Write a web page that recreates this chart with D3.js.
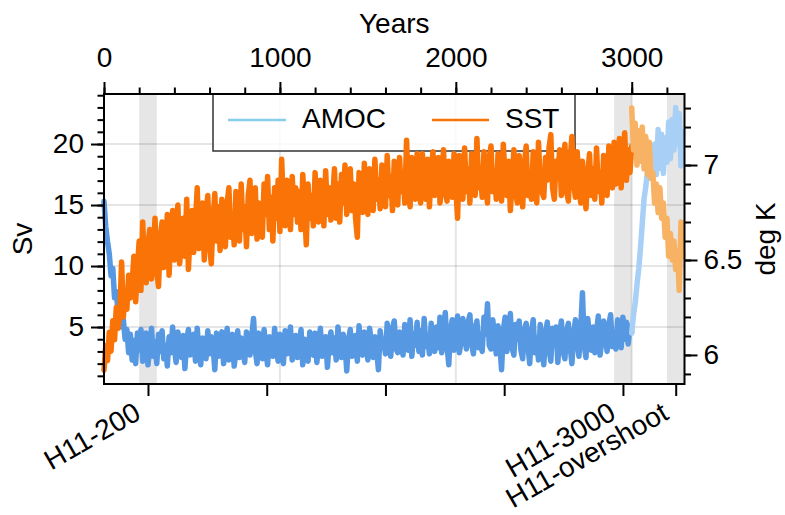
<!DOCTYPE html>
<html>
<head>
<meta charset="utf-8">
<title>AMOC and SST</title>
<style>
    body { margin:0; background:#fff; }
    svg text { font-family:"Liberation Sans", Arial, sans-serif; }
</style>
</head>
<body>
<div id="chart"></div>
<script src="https://cdn.jsdelivr.net/npm/d3@7/dist/d3.min.js"></script>
<script>

// AMOC (Sv), one value every 10 years, year 0 .. 3000 (one row = 100 years)
var amoc = [
    15.3, 13.2, 12.0, 11.0, 9.2, 9.8, 7.4, 7.9, 6.2, 6.6,
    5.0, 5.6, 4.0, 4.8, 2.9, 4.4, 2.3, 3.9, 2.0, 4.5,
    3.1, 4.8, 2.2, 3.6, 4.5, 1.9, 3.3, 4.9, 2.6, 3.8,
    2.0, 4.4, 3.0, 4.7, 2.4, 3.5, 1.8, 4.2, 2.9, 5.0,
    3.3, 2.1, 4.6, 3.7, 2.5, 4.3, 1.6, 3.9, 4.8, 2.7,
    3.5, 4.4, 2.2, 4.9, 3.1, 1.9, 4.1, 3.6, 2.4, 4.7,
    2.8, 4.2, 3.4, 1.5, 4.5, 2.6, 3.8, 4.6, 2.0, 3.2,
    4.9, 2.3, 3.7, 4.4, 1.8, 3.0, 4.7, 2.5, 4.1, 3.3,
    2.1, 4.6, 3.5, 2.7, 4.3, 5.7, 3.1, 2.0, 4.5, 3.6,
    2.4, 4.8, 3.0, 1.9, 4.2, 3.7, 2.6, 4.9, 3.2, 2.2,
    4.4, 3.4, 2.0, 4.7, 2.8, 3.9, 5.0, 2.3, 3.6, 4.3,
    2.5, 3.1, 4.8, 1.9, 4.0, 3.5, 2.2, 4.6, 3.3, 2.7,
    4.5, 2.1, 3.8, 4.9, 2.6, 3.4, 4.2, 1.7, 3.7, 4.6,
    2.9, 4.1, 2.3, 5.0, 3.2, 2.5, 4.4, 3.6, 1.4, 3.9,
    4.8, 2.6, 3.5, 4.3, 2.2, 5.1, 3.0, 2.7, 4.6, 3.4,
    2.3, 4.9, 3.7, 2.5, 4.2, 3.1, 1.5, 4.7, 3.3, 4.0,
    2.8, 5.3, 3.6, 2.6, 4.9, 5.5, 3.2, 2.9, 4.6, 3.8,
    2.7, 5.2, 4.0, 3.1, 5.6, 2.6, 4.4, 3.5, 5.4, 3.0,
    4.7, 2.7, 5.7, 3.4, 4.1, 2.8, 5.3, 3.7, 3.0, 5.0,
    3.3, 5.8, 2.9, 4.5, 6.2, 3.5, 1.9, 4.8, 5.6, 3.1,
    4.2, 5.9, 2.9, 3.8, 5.7, 4.6, 3.2, 5.4, 6.0, 3.6,
    2.8, 4.9, 5.5, 3.3, 4.1, 3.0, 5.8, 4.4, 6.9, 3.5,
    3.2, 5.6, 4.3, 2.8, 5.1, 3.6, 1.5, 4.7, 5.8, 3.0,
    4.4, 6.1, 3.3, 2.7, 5.2, 4.0, 5.5, 3.1, 2.4, 4.8,
    5.3, 3.5, 2.0, 4.6, 5.6, 2.9, 4.1, 2.3, 5.2, 3.8,
    1.9, 4.5, 5.4, 3.2, 2.2, 4.9, 3.6, 5.0, 2.1, 4.3,
    5.5, 3.0, 2.4, 4.7, 5.3, 3.4, 2.0, 4.4, 5.6, 3.7,
    2.6, 4.9, 7.8, 3.5, 2.5, 5.7, 4.2, 3.1, 5.0, 2.9,
    4.6, 5.9, 2.7, 3.9, 5.5, 4.3, 3.0, 5.2, 6.0, 3.4,
    4.1, 3.2, 5.6, 4.5, 3.3, 5.8, 4.0, 5.4, 3.6, 5.1,
    4.6
];

// SST (deg K), same years
var sst = [
    5.92, 6.05, 5.97, 6.12, 6.02, 6.18, 6.08, 6.25, 6.14, 6.22,
    6.49, 6.20, 6.33, 6.24, 6.42, 6.30, 6.38, 6.52, 6.28, 6.46,
    6.60, 6.34, 6.70, 6.45, 6.38, 6.58, 6.66, 6.40, 6.52, 6.72,
    6.44, 6.36, 6.62, 6.70, 6.46, 6.55, 6.74, 6.42, 6.64, 6.76,
    6.50, 6.68, 6.79, 6.48, 6.60, 6.72, 6.52, 6.82, 6.45, 6.66,
    6.76, 6.54, 6.70, 6.88, 6.56, 6.62, 6.80, 6.50, 6.74, 6.84,
    6.58, 6.48, 6.72, 6.85, 6.60, 6.78, 6.55, 6.82, 6.68, 6.57,
    6.80, 6.88, 6.62, 6.74, 6.58, 6.86, 6.70, 6.60, 6.90, 6.66,
    6.78, 6.57, 6.84, 6.92, 6.64, 6.75, 6.88, 6.61, 6.80, 6.70,
    6.62, 6.90, 6.74, 6.94, 6.66, 6.83, 6.60, 6.88, 6.72, 6.92,
    6.65, 7.03, 6.78, 6.68, 6.92, 6.82, 6.66, 6.94, 6.74, 6.88,
    6.70, 6.86, 6.66, 6.95, 6.78, 6.58, 6.90, 6.72, 6.84, 6.68,
    6.96, 6.76, 6.70, 6.92, 6.84, 6.68, 6.97, 6.74, 6.88, 6.71,
    6.82, 6.98, 6.72, 6.90, 6.70, 6.95, 6.80, 7.00, 6.74, 6.86,
    6.98, 6.76, 6.90, 6.72, 6.62, 6.96, 6.84, 6.75, 7.01, 6.80,
    6.74, 6.98, 6.86, 6.76, 7.03, 6.82, 6.92, 6.77, 7.00, 6.88,
    6.78, 7.05, 6.84, 6.94, 6.76, 7.02, 6.88, 6.79, 7.04, 6.86,
    6.96, 6.80, 7.13, 6.88, 6.78, 7.04, 6.92, 6.82, 7.06, 6.86,
    6.80, 7.06, 6.94, 6.82, 7.03, 6.78, 6.96, 7.07, 6.84, 6.92,
    7.04, 6.80, 6.90, 7.08, 6.86, 6.81, 7.02, 6.94, 6.83, 7.06,
    6.88, 6.72, 7.05, 6.92, 6.82, 7.09, 6.86, 6.98, 6.80, 7.06,
    6.90, 6.84, 7.14, 6.88, 6.96, 6.83, 7.07, 6.92, 6.80, 7.04,
    7.10, 6.86, 6.95, 6.82, 7.06, 6.90, 6.81, 7.11, 6.94, 6.84,
    7.02, 6.76, 6.92, 7.08, 6.85, 6.80, 7.05, 6.96, 6.78, 7.00,
    7.10, 6.84, 6.94, 6.82, 7.07, 6.88, 6.80, 7.12, 6.90, 6.86,
    6.83, 7.04, 6.92, 7.09, 7.16, 6.88, 6.82, 7.02, 6.94, 7.08,
    6.84, 6.96, 7.11, 6.86, 6.81, 7.03, 7.15, 6.90, 6.83, 7.07,
    6.92, 6.80, 7.02, 6.88, 6.77, 6.95, 7.06, 6.84, 6.98, 6.82,
    7.09, 6.86, 6.96, 6.80, 7.05, 6.92, 6.84, 7.10, 6.90, 6.88,
    7.12, 6.90, 6.98, 7.14, 6.88, 7.04, 7.17, 6.92, 7.08, 6.96,
    7.10
];

// overshoot run, one value every 10 years, year 3000 .. 3290
var amocOver = [4.5, 6.0, 7.0, 8.5, 9.8, 11.5, 13.5, 15.5, 16.5, 17.8,
                17.3, 19.5, 18.2, 20.0, 17.5, 21.2, 18.0, 20.8, 17.6, 20.5,
                18.5, 21.8, 18.8, 22.0, 19.5, 23.0, 20.0, 22.5, 18.2, 21.0];
var sstOver = [7.30, 7.08, 7.22, 7.00, 7.18, 7.02, 7.20, 6.98, 7.15, 6.95,
               7.12, 6.93, 6.96, 6.80, 6.90, 6.75, 6.88, 6.72, 6.80, 6.62,
               6.72, 6.52, 6.64, 6.50, 6.60, 6.45, 6.55, 6.34, 6.70, 6.52];

var bands = [[200, 300], [2900, 3000], [3200, 3300]];
var runTicks = [250, 925, 1600, 2275, 2950, 3250];
var runLabels = ["H11-200", "", "", "", "H11-3000", "H11-overshoot"];
var yearTicks = [0, 1000, 2000, 3000];
var svTicks = [5, 10, 15, 20];
var degTicks = [6, 6.5, 7];


var width = 785, height = 515,
    pLeft = 104, pRight = 684.5, pTop = 94, pBottom = 384;

var x  = d3.scaleLinear().domain([0, 3300]).range([pLeft, pRight]);
var yL = d3.scaleLinear().domain([0.33, 24.1]).range([pBottom, pTop]);
var yR = d3.scaleLinear().domain([5.847, 7.374]).range([pBottom, pTop]);

var svg = d3.select('#chart').append('svg')
    .attr('width', width).attr('height', height);

// grey bands for the three runs
svg.selectAll('rect.band').data(bands).enter().append('rect')
    .attr('class', 'band')
    .attr('x', d => x(d[0]))
    .attr('width', d => Math.min(x(d[1]), pRight) - x(d[0]))
    .attr('y', pTop).attr('height', pBottom - pTop)
    .style('fill', '#e6e6e6');

// grid
svg.selectAll('line.hgrid').data(svTicks).enter().append('line')
    .attr('x1', pLeft).attr('x2', pRight)
    .attr('y1', d => yL(d)).attr('y2', d => yL(d))
    .style('stroke', '#000').style('stroke-opacity', 0.1).style('stroke-width', 2);
svg.selectAll('line.vgrid').data(yearTicks.slice(1)).enter().append('line')
    .attr('y1', pTop).attr('y2', pBottom)
    .attr('x1', d => x(d)).attr('x2', d => x(d))
    .style('stroke', '#000').style('stroke-opacity', 0.1).style('stroke-width', 2);

// legend frame (under the data)
var leg = svg.append('g');
leg.append('rect')
    .attr('x', 213).attr('y', pTop).attr('width', 362).attr('height', 57)
    .style('fill', '#fff').style('fill-opacity', 0.8)
    .style('stroke', '#333').style('stroke-width', 1.5);

// lines, years taken from the position in each array
var lineL = d3.line().x(d => x(d[0])).y(d => yL(d[1]));
var lineR = d3.line().x(d => x(d[0])).y(d => yR(d[1]));
function pairs(arr, start){ return arr.map((v, i) => [start + i * 10, v]); }

function draw(path, color){
    svg.append('path').attr('d', path)
        .style('fill', 'none').style('stroke', color)
        .style('stroke-width', 5.5).style('stroke-linejoin', 'round').style('stroke-linecap', 'round');
}
draw(lineL(pairs(amoc, 0)), '#5798e3');
draw(lineL(pairs(amocOver, 3000)), '#a8d0f7');
draw(lineR(pairs(sst, 0)), '#f97306');
draw(lineR(pairs(sstOver, 3000)), '#f8b264');

// legend entries
leg = svg.append('g').style('font-size', '28px');
leg.append('line').attr('x1', 228).attr('x2', 286).attr('y1', 120).attr('y2', 120)
    .style('stroke', '#87ceeb').style('stroke-width', 2.5);
leg.append('text').attr('x', 302).attr('y', 128).text('AMOC');
leg.append('line').attr('x1', 432).attr('x2', 489).attr('y1', 120).attr('y2', 120)
    .style('stroke', '#f97306').style('stroke-width', 2.5);
leg.append('text').attr('x', 505).attr('y', 128).text('SST');

// frame
svg.append('rect').attr('x', pLeft).attr('y', pTop)
    .attr('width', pRight - pLeft).attr('height', pBottom - pTop)
    .style('fill', 'none').style('stroke', '#000').style('stroke-width', 2);

// axes
function styleAxis(g){
    g.attr('font-size', 28).attr('font-family', '"Liberation Sans", Arial, sans-serif');
    g.select('.domain').remove();
    g.selectAll('.tick line').style('stroke-width', 2);
}

svg.append('g').attr('transform', 'translate(0,' + pTop + ')')
    .call(d3.axisTop(x).tickValues(d3.range(0, 3201, 200)).tickSize(6.5).tickFormat(''))
    .call(styleAxis);
svg.append('g').attr('transform', 'translate(0,' + pTop + ')')
    .call(d3.axisTop(x).tickValues(yearTicks).tickSize(12).tickPadding(15).tickFormat(d3.format('d')))
    .call(styleAxis);

svg.append('g').attr('transform', 'translate(' + pLeft + ',0)')
    .call(d3.axisLeft(yL).tickValues(d3.range(1, 25)).tickSize(6.5).tickFormat(''))
    .call(styleAxis);
svg.append('g').attr('transform', 'translate(' + pLeft + ',0)')
    .call(d3.axisLeft(yL).tickValues(svTicks).tickSize(13).tickPadding(7).tickFormat(d3.format('d')))
    .call(styleAxis);

svg.append('g').attr('transform', 'translate(' + pRight + ',0)')
    .call(d3.axisRight(yR).tickValues(d3.range(59, 74).map(d => d / 10)).tickSize(6.5).tickFormat(''))
    .call(styleAxis);
svg.append('g').attr('transform', 'translate(' + pRight + ',0)')
    .call(d3.axisRight(yR).tickValues(degTicks).tickSize(13).tickPadding(6).tickFormat(d => String(d)))
    .call(styleAxis);

var bx = svg.append('g').attr('transform', 'translate(0,' + pBottom + ')')
    .call(d3.axisBottom(x).tickValues(runTicks).tickSize(12).tickFormat((d, i) => runLabels[i]))
    .call(styleAxis);
bx.selectAll('.tick text')
    .attr('x', 0).attr('y', 0).attr('dy', 0)
    .attr('text-anchor', 'end')
    .attr('transform', 'translate(-6,34) rotate(-30)');

// axis titles
svg.append('text').attr('x', (pLeft + pRight) / 2).attr('y', 33)
    .attr('text-anchor', 'middle').style('font-size', '28px').text('Years');
svg.append('text').attr('transform', 'translate(32,' + (pTop + pBottom) / 2 + ') rotate(-90)')
    .attr('text-anchor', 'middle').style('font-size', '28px').text('Sv');
svg.append('text').attr('transform', 'translate(775,' + (pTop + pBottom) / 2 + ') rotate(-90)')
    .attr('text-anchor', 'middle').style('font-size', '28px').text('deg K');

</script>
</body>
</html>
